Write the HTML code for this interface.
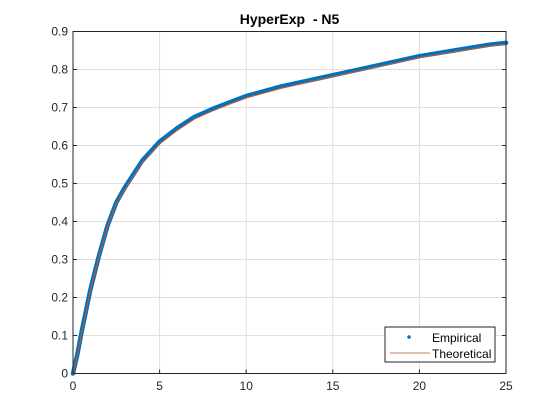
<!DOCTYPE html>
<html><head><meta charset="utf-8"><style>
body{margin:0;background:#fff;}
svg{display:block;font-family:"Liberation Sans",sans-serif;}
</style></head><body>
<svg id="chart" width="560" height="420">
<rect x="0" y="0" width="560" height="420" fill="#fff"/>
<rect x="73" y="31.5" width="433" height="342" fill="#fff"/>
<g id="grid"></g>
<g id="series"></g>
<rect x="73" y="31.5" width="433" height="342" fill="none" stroke="#262626" stroke-width="1"/>
<g id="ticks"></g>
<text x="289.5" y="24" text-anchor="middle" font-size="14" font-weight="bold" fill="#000">HyperExp&#160; - N5</text>
<g>
<rect x="385" y="327" width="110" height="35" fill="#fff" stroke="#262626" stroke-width="1"/>
<circle cx="409" cy="337" r="1.8" fill="#0072BD"/>
<text x="432" y="342" font-size="12" fill="#000">Empirical</text>
<line x1="390" y1="353" x2="430" y2="353" stroke="#B0502A" stroke-width="0.8"/>
<text x="432" y="358" font-size="12" fill="#000">Theoretical</text>
</g>
</svg>
<script>
const xVals=[0,0.25,0.5,1,1.5,2,2.5,3,3.5,4,5,6,7,8,9,10,12,14,16,18,20,22,24,25];
const empVals=[0,0.05,0.11,0.22,0.31,0.39,0.45,0.49,0.525,0.56,0.61,0.645,0.675,0.695,0.713,0.73,0.755,0.775,0.795,0.815,0.835,0.85,0.865,0.87];
const theoVals=[0,0.05,0.11,0.22,0.31,0.39,0.45,0.488,0.523,0.557,0.607,0.642,0.672,0.693,0.711,0.728,0.753,0.774,0.794,0.814,0.834,0.849,0.864,0.869];
const xTicks=[0,5,10,15,20,25];
const yTicks=[0,0.1,0.2,0.3,0.4,0.5,0.6,0.7,0.8,0.9];
const X0=73,X1=506,Y0=373.5,Y1=31.5;
const sx=v=>X0+(v-0)/25*(X1-X0);
const sy=v=>Y0-(v/0.9)*(Y0-Y1);
const NS="http://www.w3.org/2000/svg";
const grid=document.getElementById('grid'),ticks=document.getElementById('ticks'),series=document.getElementById('series');
function mk(t,a,p){const e=document.createElementNS(NS,t);for(const k in a)e.setAttribute(k,a[k]);p.appendChild(e);return e;}
xTicks.forEach(v=>{const x=sx(v);
 const g=mk('line',{x1:x,x2:x,y1:Y1,y2:Y0,stroke:'#dfdfdf','stroke-width':1},grid);
 
 
 mk('line',{x1:x,x2:x,y1:Y0,y2:Y0-4,stroke:'#262626'},ticks);
 const t=mk('text',{x:x,y:390,'text-anchor':'middle','font-size':12,fill:'#262626'},ticks);t.textContent=v;
 
 
});
yTicks.forEach(v=>{const y=sy(v);
 const g=mk('line',{x1:X0,x2:X1,y1:y,y2:y,stroke:'#dfdfdf','stroke-width':1},grid);
 
 
 mk('line',{x1:X0,x2:X0+4,y1:y,y2:y,stroke:'#262626'},ticks);
 mk('line',{x1:X1,x2:X1-4,y1:y,y2:y,stroke:'#262626'},ticks);
 const t=mk('text',{x:68,y:y+4,'text-anchor':'end','font-size':12,fill:'#262626'},ticks);t.textContent=v===0?'0':v.toFixed(1);
 
 
});
const ep=mk('polyline',{points:xVals.map((v,i)=>sx(v)+','+sy(empVals[i])).join(' '),fill:'none',stroke:'#0072BD','stroke-width':4.5,'stroke-linejoin':'round','stroke-linecap':'round'},series);


const tp=mk('polyline',{points:xVals.map((v,i)=>sx(v)+','+(sy(theoVals[i])+1)).join(' '),fill:'none',stroke:'#D95319','stroke-width':1,'stroke-linejoin':'round'},series);


</script>
</body></html>
